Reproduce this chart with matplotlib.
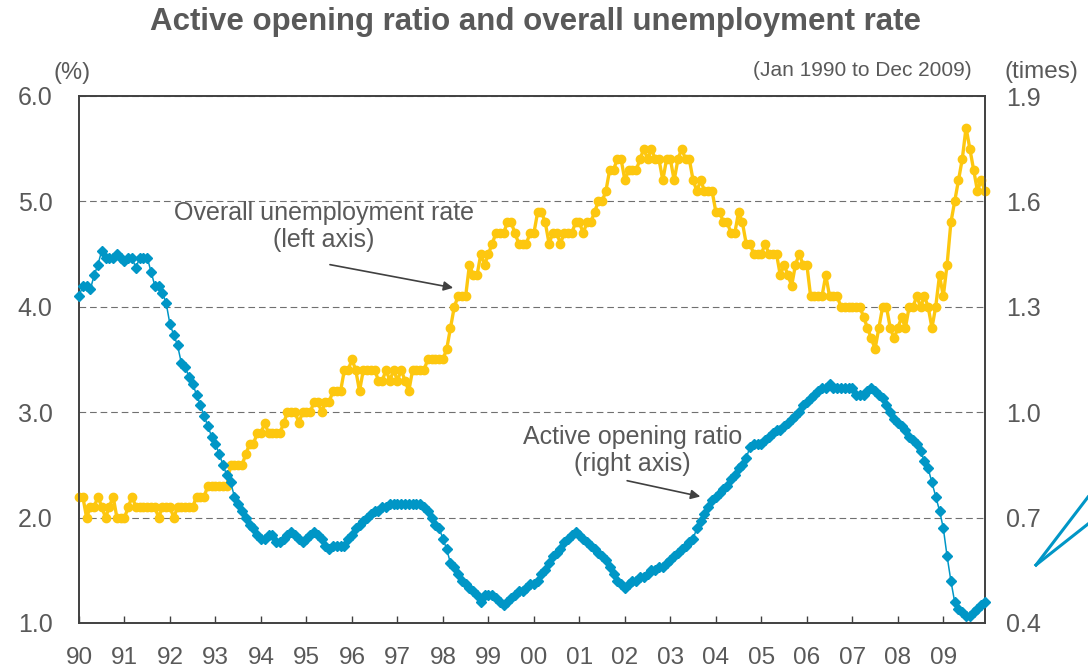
import numpy as np
import matplotlib
matplotlib.use("Agg")
import matplotlib.pyplot as plt
from matplotlib.lines import Line2D

plt.rcParams['font.family'] = ['Liberation Sans', 'DejaVu Sans']

# monthly values, Jan 1990 .. Dec 2009
year_labels = ["90", "91", "92", "93", "94", "95", "96", "97", "98", "99",
               "00", "01", "02", "03", "04", "05", "06", "07", "08", "09"]

# overall unemployment rate (%), left axis
unemployment = [
    2.2, 2.2, 2.0, 2.1, 2.1, 2.2, 2.1, 2.0, 2.1, 2.2, 2.0, 2.0,  # 1990
    2.0, 2.1, 2.2, 2.1, 2.1, 2.1, 2.1, 2.1, 2.1, 2.0, 2.1, 2.1,  # 1991
    2.1, 2.0, 2.1, 2.1, 2.1, 2.1, 2.1, 2.2, 2.2, 2.2, 2.3, 2.3,  # 1992
    2.3, 2.3, 2.3, 2.3, 2.5, 2.5, 2.5, 2.5, 2.6, 2.7, 2.7, 2.8,  # 1993
    2.8, 2.9, 2.8, 2.8, 2.8, 2.8, 2.9, 3.0, 3.0, 3.0, 2.9, 3.0,  # 1994
    3.0, 3.0, 3.1, 3.1, 3.0, 3.1, 3.1, 3.2, 3.2, 3.2, 3.4, 3.4,  # 1995
    3.5, 3.4, 3.2, 3.4, 3.4, 3.4, 3.4, 3.3, 3.3, 3.4, 3.3, 3.4,  # 1996
    3.3, 3.4, 3.3, 3.2, 3.4, 3.4, 3.4, 3.4, 3.5, 3.5, 3.5, 3.5,  # 1997
    3.5, 3.6, 3.8, 4.0, 4.1, 4.1, 4.1, 4.4, 4.3, 4.3, 4.5, 4.4,  # 1998
    4.5, 4.6, 4.7, 4.7, 4.7, 4.8, 4.8, 4.7, 4.6, 4.6, 4.6, 4.7,  # 1999
    4.7, 4.9, 4.9, 4.8, 4.6, 4.7, 4.7, 4.6, 4.7, 4.7, 4.7, 4.8,  # 2000
    4.8, 4.7, 4.8, 4.8, 4.9, 5.0, 5.0, 5.1, 5.3, 5.3, 5.4, 5.4,  # 2001
    5.2, 5.3, 5.3, 5.3, 5.4, 5.5, 5.4, 5.5, 5.4, 5.4, 5.2, 5.4,  # 2002
    5.4, 5.2, 5.4, 5.5, 5.4, 5.4, 5.2, 5.1, 5.2, 5.1, 5.1, 5.1,  # 2003
    4.9, 4.9, 4.8, 4.8, 4.7, 4.7, 4.9, 4.8, 4.6, 4.6, 4.5, 4.5,  # 2004
    4.5, 4.6, 4.5, 4.5, 4.5, 4.3, 4.4, 4.3, 4.2, 4.4, 4.5, 4.4,  # 2005
    4.4, 4.1, 4.1, 4.1, 4.1, 4.3, 4.1, 4.1, 4.1, 4.0, 4.0, 4.0,  # 2006
    4.0, 4.0, 4.0, 3.9, 3.8, 3.7, 3.6, 3.8, 4.0, 4.0, 3.8, 3.7,  # 2007
    3.8, 3.9, 3.8, 4.0, 4.0, 4.1, 4.0, 4.1, 4.0, 3.8, 4.0, 4.3,  # 2008
    4.1, 4.4, 4.8, 5.0, 5.2, 5.4, 5.7, 5.5, 5.3, 5.1, 5.2, 5.1,  # 2009
]

# active opening ratio (times), right axis
opening_ratio = [
    1.33, 1.36, 1.36, 1.35, 1.39, 1.42, 1.46, 1.44, 1.44, 1.44, 1.45, 1.44,  # 1990
    1.43, 1.44, 1.44, 1.41, 1.44, 1.44, 1.44, 1.40, 1.36, 1.36, 1.34, 1.31,  # 1991
    1.25, 1.22, 1.19, 1.14, 1.13, 1.10, 1.08, 1.05, 1.02, 0.99, 0.96, 0.93,  # 1992
    0.91, 0.88, 0.85, 0.82, 0.80, 0.76, 0.74, 0.72, 0.70, 0.68, 0.67, 0.65,  # 1993
    0.64, 0.64, 0.65, 0.65, 0.63, 0.63, 0.64, 0.65, 0.66, 0.65, 0.64, 0.63,  # 1994
    0.64, 0.65, 0.66, 0.65, 0.64, 0.62, 0.61, 0.62, 0.62, 0.62, 0.62, 0.64,  # 1995
    0.65, 0.67, 0.68, 0.69, 0.70, 0.71, 0.72, 0.72, 0.73, 0.73, 0.74, 0.74,  # 1996
    0.74, 0.74, 0.74, 0.74, 0.74, 0.74, 0.74, 0.73, 0.72, 0.70, 0.68, 0.67,  # 1997
    0.64, 0.61, 0.57, 0.56, 0.54, 0.52, 0.51, 0.50, 0.49, 0.48, 0.46, 0.48,  # 1998
    0.48, 0.48, 0.47, 0.46, 0.45, 0.46, 0.47, 0.48, 0.49, 0.49, 0.50, 0.51,  # 1999
    0.51, 0.52, 0.54, 0.55, 0.57, 0.59, 0.60, 0.61, 0.63, 0.64, 0.65, 0.66,  # 2000
    0.65, 0.64, 0.63, 0.62, 0.61, 0.60, 0.59, 0.58, 0.56, 0.54, 0.52, 0.51,  # 2001
    0.50, 0.51, 0.52, 0.52, 0.53, 0.53, 0.54, 0.55, 0.55, 0.56, 0.56, 0.57,  # 2002
    0.58, 0.59, 0.60, 0.61, 0.62, 0.63, 0.64, 0.67, 0.69, 0.71, 0.73, 0.75,  # 2003
    0.76, 0.77, 0.78, 0.79, 0.81, 0.82, 0.84, 0.85, 0.87, 0.90, 0.91, 0.91,  # 2004
    0.91, 0.92, 0.93, 0.94, 0.95, 0.95, 0.96, 0.97, 0.98, 0.99, 1.00, 1.02,  # 2005
    1.03, 1.04, 1.05, 1.06, 1.07, 1.07, 1.08, 1.07, 1.07, 1.07, 1.07, 1.07,  # 2006
    1.07, 1.05, 1.05, 1.05, 1.06, 1.07, 1.06, 1.05, 1.04, 1.02, 1.00, 0.98,  # 2007
    0.97, 0.96, 0.95, 0.93, 0.92, 0.91, 0.89, 0.86, 0.84, 0.80, 0.76, 0.72,  # 2008
    0.67, 0.59, 0.52, 0.46, 0.44, 0.43, 0.42, 0.42, 0.43, 0.44, 0.45, 0.46,  # 2009
]

left_ticks = [1.0, 2.0, 3.0, 4.0, 5.0, 6.0]
right_ticks = [0.4, 0.7, 1.0, 1.3, 1.6, 1.9]

yellow = "#FDC70F"
blue = "#0096C6"
txt = "#595959"
edge = "#404040"

W, H = 1088, 671
fig = plt.figure(figsize=(W / 100, H / 100), dpi=100)
ax = fig.add_axes([79 / W, 48 / H, 906 / W, 527 / H])

x = np.arange(len(unemployment))
ax.plot(x, unemployment, color=yellow, lw=2.4, marker="o", ms=6,
        mec=yellow, mfc=yellow, clip_on=False, zorder=3)
ax.set_xlim(0, len(x) - 1)
ax.set_ylim(1, 6)
ax.set_yticks(left_ticks)
ax.set_yticklabels(["%.1f" % v for v in left_ticks])
ax.set_xticks(np.arange(0, len(x), 12))
ax.set_xticklabels(year_labels)
ax.grid(axis="y", ls=(0, (6, 3.5)), color="#707070", lw=0.8)
ax.tick_params(axis="y", length=0, pad=19, labelsize=18, labelcolor=txt)
ax.tick_params(axis="x", direction="in", length=5, width=1, color=edge,
               pad=17, labelsize=17.5, labelcolor=txt)

ax2 = ax.twinx()
ax2.plot(x, opening_ratio, color=blue, lw=1.1, marker="D", ms=4.6,
         mec=blue, mfc=blue, clip_on=False, zorder=3)
ax2.set_ylim(0.4, 1.9)
ax2.set_yticks(right_ticks)
ax2.set_yticklabels(["%.1f" % v for v in right_ticks])
ax2.tick_params(axis="y", length=0, pad=15, labelsize=18, labelcolor=txt)

for a in (ax, ax2):
    for s in a.spines.values():
        s.set_color(edge)
        s.set_linewidth(1.2)

# annotations
ax.text(64.5, 4.76, "Overall unemployment rate\n(left axis)", ha="center",
        va="center", fontsize=18, color=txt, linespacing=1.15)
ax.annotate("", xy=(98.7, 4.18), xytext=(66.2, 4.40),
            arrowprops=dict(arrowstyle="-|>", color=edge, lw=1.2,
                            mutation_scale=14, shrinkA=0, shrinkB=0))
ax.text(146, 2.64, "Active opening ratio\n(right axis)", ha="center",
        va="center", fontsize=18, color=txt, linespacing=1.15)
ax.annotate("", xy=(163.9, 2.20), xytext=(144.6, 2.35),
            arrowprops=dict(arrowstyle="-|>", color=edge, lw=1.2,
                            mutation_scale=14, shrinkA=0, shrinkB=0))

fig.text(535 / W, 1 - 22 / H, "Active opening ratio and overall unemployment rate",
         ha="center", va="center", fontsize=22.5, fontweight="bold", color=txt)
fig.text(72 / W, 1 - 73 / H, "(%)", ha="center", va="center", fontsize=17, color=txt)
fig.text(972 / W, 1 - 70 / H, "(Jan 1990 to Dec 2009)", ha="right", va="center",
         fontsize=15, color=txt)
fig.text(1005 / W, 1 - 72 / H, "(times)", ha="left", va="center", fontsize=17.5, color=txt)

# cut-off shape at the right edge of the original picture
for yend in (497, 524):
    fig.add_artist(Line2D([1036 / W, 1088 / W], [1 - 565 / H, 1 - yend / H],
                          color=blue, lw=2.2, transform=fig.transFigure))

fig.savefig("out.png", dpi=100)
